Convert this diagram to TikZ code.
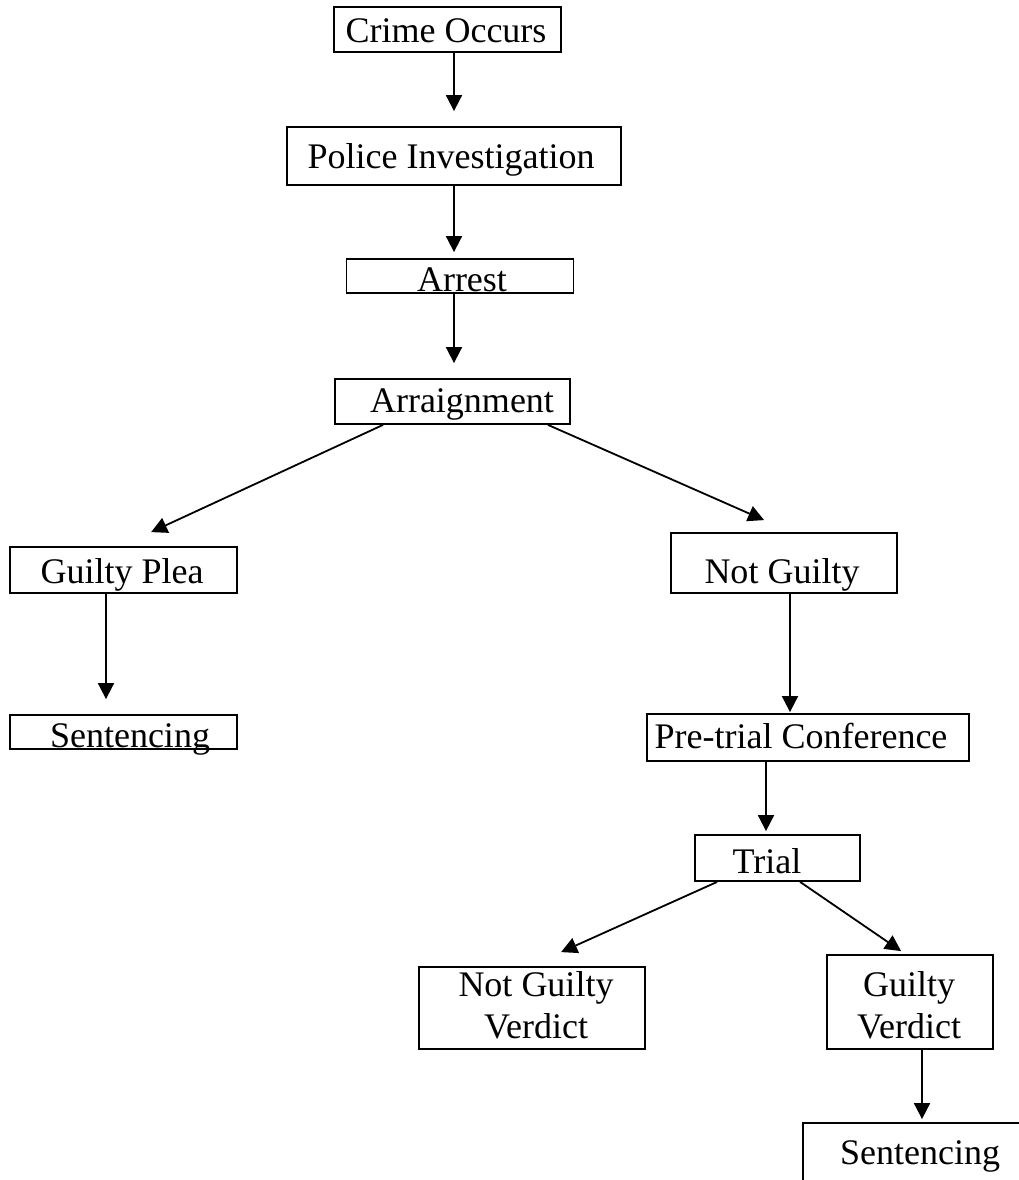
\documentclass[tikz,border=0pt]{standalone}
\usepackage{fontspec}
\setmainfont{Liberation Serif}
\usetikzlibrary{arrows.meta}

\begin{document}
\begin{tikzpicture}[x=1pt,y=-1pt,
    box/.style={draw, line width=1.8pt, rectangle, inner sep=0pt},
    lbl/.style={anchor=base, inner sep=0pt, align=center, font=\fontsize{36}{42}\selectfont},
    flow/.style={line width=1.8pt, -{Triangle[length=16pt,width=16pt]}}]
  \useasboundingbox (0,0) rectangle (1018,1180);

  % boxes
  \node[box, minimum width=227pt, minimum height=45pt] (crime) at (447.5,29.5) {};
  \node[box, minimum width=334pt, minimum height=58pt] (police) at (454,156) {};
  \node[box, minimum width=227pt, minimum height=34pt] (arrest) at (460,276) {};
  \node[box, minimum width=235pt, minimum height=45pt] (arraign) at (452.5,401.5) {};
  \node[box, minimum width=227pt, minimum height=46pt] (plea) at (123.5,570) {};
  \node[box, minimum width=227pt, minimum height=34pt] (sentL) at (123.5,732) {};
  \node[box, minimum width=226pt, minimum height=60pt] (notg) at (784,563) {};
  \node[box, minimum width=322pt, minimum height=47pt] (pretrial) at (808,737.5) {};
  \node[box, minimum width=165pt, minimum height=46pt] (trial) at (777.5,858) {};
  \node[box, minimum width=226pt, minimum height=82pt] (ngv) at (532,1008) {};
  \node[box, minimum width=166pt, minimum height=94pt] (gv) at (910,1002) {};
  \node[box, minimum width=237pt, minimum height=77pt] (sentR) at (921.5,1161.5) {};

  % labels
  \node[lbl] (crimeLbl) at (446,43) {Crime Occurs};
  \node[lbl] (policeLbl) at (451,168) {Police Investigation};
  \node[lbl] (arrestLbl) at (462,291) {Arrest};
  \node[lbl] (arraignLbl) at (462,412) {Arraignment};
  \node[lbl] (pleaLbl) at (122,583) {Guilty Plea};
  \node[lbl] (sentLLbl) at (130,747) {Sentencing};
  \node[lbl] (notgLbl) at (782,583) {Not Guilty};
  \node[lbl] (pretrialLbl) at (801,748) {Pre-trial Conference};
  \node[lbl] (trialLbl) at (767,873) {Trial};
  \node[lbl] (ngvLbl) at (536,1038) {Not Guilty\\Verdict};
  \node[lbl] (gvLbl) at (909,1038) {Guilty\\Verdict};
  \node[lbl] (sentRLbl) at (920,1164) {Sentencing};

  % arrows
  \draw[flow, shorten >=15pt] (crime.south -| police.north) -- (police.north);
  \draw[flow, shorten >=6pt] (police.south) -- (police.south |- arrest.north);
  \draw[flow, shorten >=15pt] (arrest.south -| police.south) -- (police.south |- arraign.north);
  \draw[flow] ([xshift=-69.5pt]arraign.south) -- ([xshift=142pt,yshift=14pt]plea.north west);
  \draw[flow] ([xshift=95.5pt]arraign.south) -- ([xshift=94pt,yshift=12pt]notg.north west);
  \draw[flow, shorten >=15pt] ([xshift=-17.5pt]plea.south) -- ([xshift=-17.5pt]sentL.north);
  \draw[flow, shorten >=1pt] ([xshift=6pt]notg.south) -- ([xshift=6pt]notg.south |- pretrial.north);
  \draw[flow, shorten >=3pt] (pretrial.south -| 766,0) -- (trial.north -| 766,0);
  \draw[flow] ([xshift=23pt]trial.south west) -- ([xshift=143pt,yshift=14pt]ngv.north west);
  \draw[flow] ([xshift=106pt]trial.south west) -- ([xshift=75pt,yshift=3pt]gv.north west);
  \draw[flow, shorten >=3pt] ([xshift=12pt]gv.south) -- ([xshift=12pt]gv.south |- sentR.north);
\end{tikzpicture}
\end{document}
